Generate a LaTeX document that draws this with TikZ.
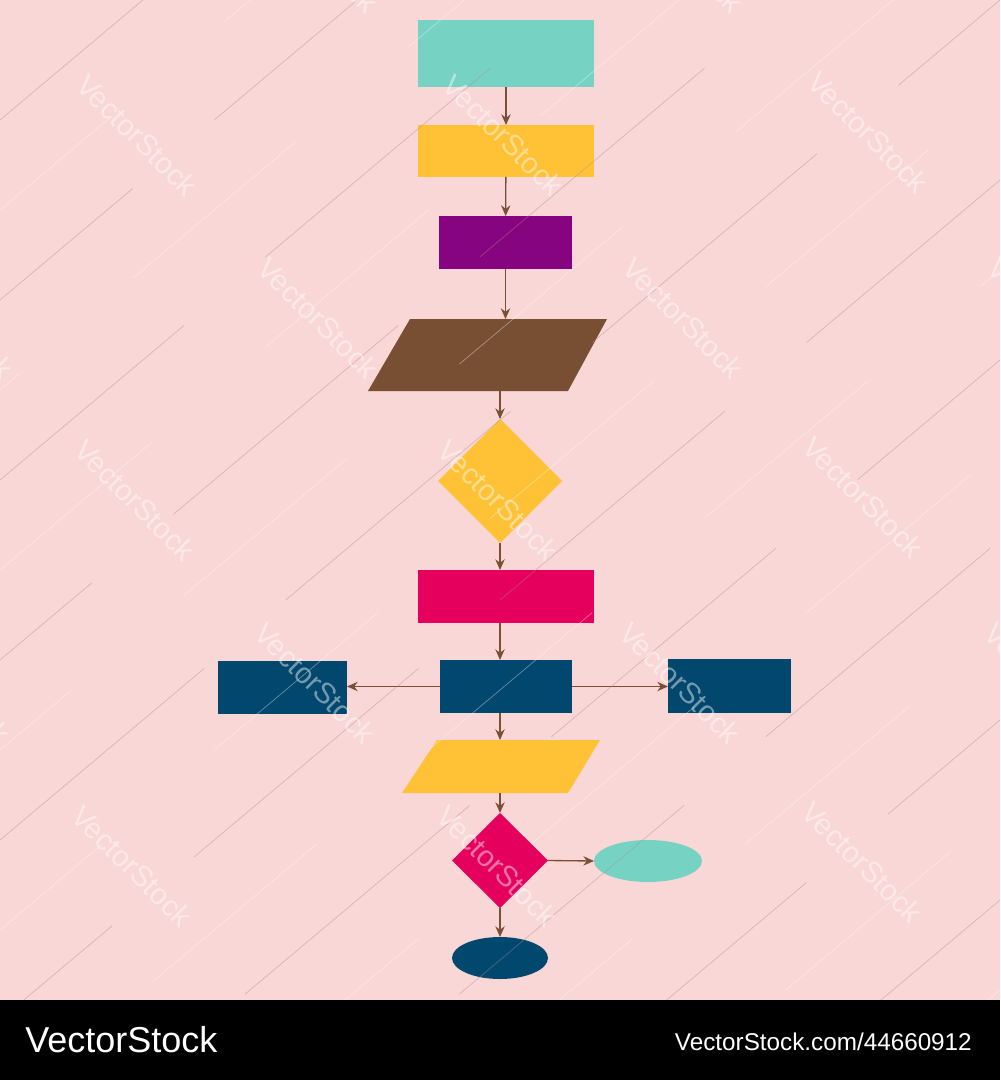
\documentclass[tikz,border=0pt]{standalone}
\usepackage{fontspec}
\setmainfont{Liberation Sans}
\usetikzlibrary{shapes.geometric,arrows.meta}
\definecolor{bg}{HTML}{F8D7D6}
\definecolor{cteal}{HTML}{76D2C3}
\definecolor{cyellow}{HTML}{FFC236}
\definecolor{cpurple}{HTML}{870480}
\definecolor{cbrown}{HTML}{784F33}
\definecolor{cpink}{HTML}{E6005E}
\definecolor{cnavy}{HTML}{02476D}
\definecolor{carrow}{HTML}{7B4F33}
\definecolor{wmdark}{RGB}{170,140,140}
\tikzset{
  box/.style={rectangle, inner sep=0pt, outer sep=0pt},
  dia/.style={diamond, inner sep=0pt, outer sep=0pt},
  ell/.style={ellipse, inner sep=0pt, outer sep=0pt},
  ghost/.style={rectangle, inner sep=0pt, outer sep=0pt},
  link/.style={draw=carrow, line width=1pt, -{Stealth[length=8pt,width=7pt]}},
  wm/.style={rotate=-45, text=white, opacity=0.45, font=\fontsize{22}{22}\selectfont},
  wmline/.style={draw=wmdark, line width=0.5pt, opacity=0.45},
  wmlight/.style={draw=white, line width=0.5pt, opacity=0.4}
}
\begin{document}
\begin{tikzpicture}[x=0.75pt,y=-0.75pt]
\useasboundingbox (0,0) rectangle (1000,1080);
\fill[bg] (0,0) rectangle (1000,1000);
% shapes
\node[box, fill=cteal, minimum width=132pt, minimum height=50.25pt] (start) at (506,53.5) {};
\node[box, fill=cyellow, minimum width=132pt, minimum height=39pt] (step1) at (506,151) {};
\node[box, fill=cpurple, minimum width=99.75pt, minimum height=39.75pt] (step2) at (505.5,242.5) {};
\fill[cbrown] (410,319) -- (607,319) -- (568,391) -- (368,391) -- cycle;
\node[ghost, minimum width=179.25pt, minimum height=54pt] (io1) at (487.5,355) {};
\node[dia, fill=cyellow, minimum width=93pt, minimum height=93pt] (dec1) at (500,481) {};
\node[box, fill=cpink, minimum width=132pt, minimum height=39.75pt] (step3) at (506,596.5) {};
\node[box, fill=cnavy, minimum width=99pt, minimum height=39.75pt] (mid) at (506,686.5) {};
\node[box, fill=cnavy, minimum width=96.75pt, minimum height=39.75pt] (left) at (282.5,687.5) {};
\node[box, fill=cnavy, minimum width=92.25pt, minimum height=40.5pt] (right) at (729.5,686) {};
\fill[cyellow] (437,740) -- (600,740) -- (568,793) -- (402,793) -- cycle;
\node[ghost, minimum width=148.5pt, minimum height=39.75pt] (io2) at (501,766.5) {};
\node[dia, fill=cpink, minimum width=72pt, minimum height=71.25pt] (dec2) at (500,860.5) {};
\node[ell, fill=cteal, minimum width=81pt, minimum height=31.5pt] (endA) at (648,861) {};
\node[ell, fill=cnavy, minimum width=72pt, minimum height=31.5pt] (endB) at (500,958) {};
% connectors
\draw[link] (start) -- (step1);
\draw[link] (step1) -- (step2);
\draw[link] (step2.south) -- (step2.south |- io1.north);
\draw[link] (io1.south -| dec1) -- (dec1.north);
\draw[link] (dec1.south) -- (dec1.south |- step3.north);
\draw[link] (step3.south -| dec1) -- (mid.north -| dec1);
\draw[link] (mid.west) -- (left.east |- mid.west);
\draw[link] (mid.east) -- (right.west |- mid.east);
\draw[link] (mid.south -| dec2) -- (io2.north -| dec2);
\draw[link] (io2.south -| dec2) -- (dec2.north);
\draw[link] (dec2.east) -- (endA.west);
\draw[link] (dec2.south) -- (endB.north);
% watermark lines (over everything)
\begin{scope}
\clip (0,0) rectangle (1000,1000);
\foreach \c/\ph in {120/0,300/90,480/40,660/130,840/20,1020/110,1200/60,1380/150,1560/30,1740/100,1920/70}{
  \draw[wmline, dash pattern=on 220pt off 80pt, dash phase=\ph pt] (0,\c) -- ++(1250,-1050);
}
\foreach \c/\ph in {210/50,390/140,570/10,750/90,930/60,1110/120,1290/20,1470/80,1650/40,1830/130}{
  \draw[wmlight, dash pattern=on 160pt off 110pt, dash phase=\ph pt] (0,\c) -- ++(1250,-1050);
}
% watermark texts
\foreach \px/\py in {318/-48,683/-48,137/135,503/135,868/132,-47/318,318/318,683/318,1048/318,135/500,498/500,863/497,-50/683,315/683,680/683,1045/683,132/866,497/866,862/862}{
  \node[wm] at (\px,\py) {VectorStock};
}
\end{scope}
% footer band
\fill[black] (0,1000) rectangle (1000,1080);
\node[anchor=base west, text=white, inner sep=0pt, font=\fontsize{27}{27}\selectfont] (brand) at (25,1052) {VectorStock};
\node[anchor=base east, text=white, inner sep=0pt, font=\fontsize{18.2}{18.2}\selectfont] (ref) at (972,1050) {VectorStock.com/44660912};
\end{tikzpicture}
\end{document}
